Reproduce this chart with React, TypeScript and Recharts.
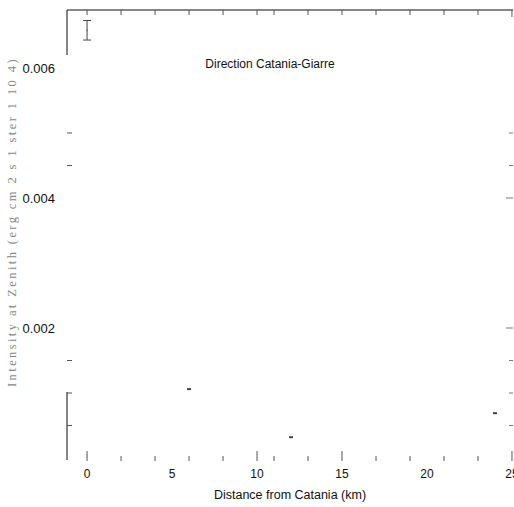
import { ErrorBar, ReferenceLine, Scatter, ScatterChart, XAxis, YAxis } from 'recharts'

// distance (km) and zenith intensity
const baseKm = [0]
const baseIntensity = [0.00658]
const baseError = [0.00015]

const distanceKm = [6, 12, 24]
const intensity = [0.00106, 0.00032, 0.00069]

const xTicks = [0, 2, 4, 5, 6, 8, 10, 11, 13, 15, 17, 19, 20, 21, 23, 25]
const xLabels = [0, 5, 10, 15, 20, 25]
const xNoMark = [5, 20]
const yTicksLeft = [0.0005, 0.001, 0.0015, 0.002, 0.004, 0.0045, 0.005, 0.006]
const yTicksRight = [0.0005, 0.001, 0.0015, 0.002, 0.004, 0.0045, 0.005]
const yLabels = [0.002, 0.004, 0.006]

const X_DOMAIN: [number, number] = [-1.18, 25.06]
const Y_DOMAIN: [number, number] = [-0.000046, 0.006892]

const PLOT_TOP = 10

const baseData = baseKm.map((x, i) => ({ x, y: baseIntensity[i], err: baseError[i] }))
const pointData = distanceKm.map((x, i) => ({ x, y: intensity[i] }))

const font = '"Liberation Sans", Arial, Helvetica, sans-serif'

// bottom ticks also draw the matching marks under the top frame line
const BottomTick = (props: any) => {
  const { x, y, payload } = props
  const v = payload.value
  const major = [0, 10, 15, 25].includes(v)
  const mark = !xNoMark.includes(v)
  return (
    <g>
      {mark && <line x1={x} x2={x} y1={y} y2={y - (major ? 10 : 5)} stroke="#555" strokeWidth={1} />}
      {mark && (
        <line x1={x} x2={x} y1={PLOT_TOP} y2={PLOT_TOP + (v === 25 ? 7 : 5)} stroke="#555" strokeWidth={1} />
      )}
      {xLabels.includes(v) && (
        <text x={x} y={y + 17} textAnchor="middle" fontFamily={font} fontSize={12} fill="#111">
          {v}
        </text>
      )}
    </g>
  )
}

const LeftTick = (props: any) => {
  const { x, y, payload } = props
  if (yLabels.includes(payload.value)) {
    return (
      <text x={x - 12} y={y + 5} textAnchor="end" fontFamily={font} fontSize={13} fill="#111">
        {payload.value.toFixed(3)}
      </text>
    )
  }
  return <line x1={x} x2={x + 5} y1={y} y2={y} stroke="#555" strokeWidth={1} />
}

const RightTick = (props: any) => {
  const { x, y, payload } = props
  const major = payload.value === 0.002 || payload.value === 0.004
  return <line x1={x} x2={x - (major ? 7 : 4)} y1={y} y2={y} stroke="#777" strokeWidth={1} />
}

const Mark = (props: any) => {
  const { cx, cy } = props
  return <rect x={cx - 2} y={cy - 1} width={4} height={2} fill="#444" />
}

const Dot = (props: any) => {
  const { cx, cy } = props
  return <rect x={cx - 0.5} y={cy - 1} width={1} height={2} fill="#666" />
}

export default function App() {
  return (
    <div style={{ position: 'absolute', left: 0, top: 0, width: 514, height: 507, background: '#fff' }}>
      <ScatterChart width={514} height={507} margin={{ top: PLOT_TOP, right: 0, bottom: 0, left: 0 }}>
        <XAxis
          type="number"
          dataKey="x"
          domain={X_DOMAIN}
          allowDataOverflow
          ticks={xTicks}
          interval={0}
          height={46}
          axisLine={false}
          tickLine={false}
          tickSize={0}
          tickMargin={0}
          tick={<BottomTick />}
          label={{
            value: 'Distance from Catania (km)',
            position: 'insideBottom',
            offset: 8,
            fontFamily: font,
            fontSize: 12.5,
            fill: '#111',
          }}
        />
        <YAxis
          type="number"
          dataKey="y"
          domain={Y_DOMAIN}
          allowDataOverflow
          ticks={yTicksLeft}
          interval={0}
          width={67}
          axisLine={false}
          tickLine={false}
          tickSize={0}
          tickMargin={0}
          tick={<LeftTick />}
        />
        <YAxis
          yAxisId="right"
          orientation="right"
          type="number"
          domain={Y_DOMAIN}
          allowDataOverflow
          ticks={yTicksRight}
          interval={0}
          width={1}
          axisLine={false}
          tickLine={false}
          tickSize={0}
          tickMargin={0}
          tick={<RightTick />}
        />
        <ReferenceLine y={Y_DOMAIN[1]} stroke="#111" strokeWidth={1.2} ifOverflow="visible" />
        <ReferenceLine
          segment={[
            { x: X_DOMAIN[0], y: Y_DOMAIN[1] },
            { x: X_DOMAIN[0], y: 0.0062 },
          ]}
          stroke="#333"
          strokeWidth={1.2}
          ifOverflow="visible"
        />
        <ReferenceLine
          segment={[
            { x: X_DOMAIN[0], y: 0.001015 },
            { x: X_DOMAIN[0], y: -0.00003 },
          ]}
          stroke="#333"
          strokeWidth={1.2}
          ifOverflow="visible"
        />
        <Scatter data={baseData} shape={<Dot />} isAnimationActive={false}>
          <ErrorBar dataKey="err" direction="y" width={4} stroke="#444" strokeWidth={1} />
        </Scatter>
        <Scatter data={pointData} shape={<Mark />} isAnimationActive={false} />
        <text x={270} y={68} textAnchor="middle" fontFamily={font} fontSize={12} fill="#111">
          Direction Catania-Giarre
        </text>
        <text
          x={16}
          y={222}
          transform="rotate(-90 16 222)"
          textAnchor="middle"
          fontFamily='"Liberation Serif", "DejaVu Serif", serif'
          fontSize={12.5}
          letterSpacing={2.4}
          fill="#888"
        >
          Intensity at Zenith (erg cm 2 s 1 ster 1 10 4)
        </text>
      </ScatterChart>
    </div>
  )
}
